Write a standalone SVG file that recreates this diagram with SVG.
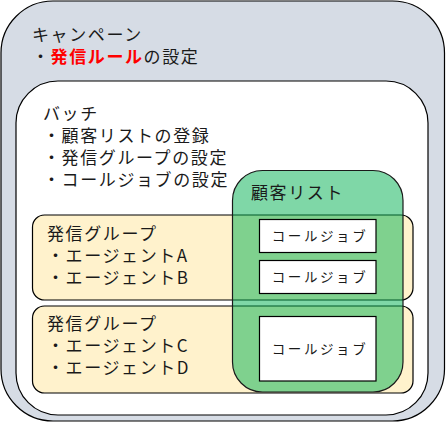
<svg xmlns="http://www.w3.org/2000/svg" width="446" height="423" viewBox="0 0 446 423">
<style>
text{font-family:"Noto Sans CJK JP","Noto Sans",sans-serif;fill:#1a1a1a;font-size:17px;letter-spacing:1.6px}
.box{stroke:#000;stroke-width:1.2}
.job{font-size:13.5px;letter-spacing:2.6px;text-anchor:middle}
.red{fill:#ff0000;font-weight:bold}
</style>
<g id="campaign">
<rect class="box" x="1" y="1" width="443.5" height="420" rx="52" fill="#D6DCE5"/>
<text x="32" y="41">キャンペーン<tspan x="32" dy="22">・</tspan><tspan class="red">発信ルール</tspan><tspan>の設定</tspan></text>
</g>
<g id="batch">
<rect class="box" x="16" y="81" width="412" height="334" rx="42" fill="#FFFFFF"/>
<text x="43" y="120">バッチ<tspan x="43" dy="22">・顧客リストの登録</tspan><tspan x="43" dy="22">・発信グループの設定</tspan><tspan x="43" dy="22">・コールジョブの設定</tspan></text>
</g>
<g id="group1">
<rect class="box" x="32.5" y="215" width="380.5" height="85" rx="12" fill="#FFF2CC"/>
<text x="47" y="240">発信グループ<tspan x="47" dy="22">・エージェントA</tspan><tspan x="47" dy="21.5">・エージェントB</tspan></text>
</g>
<g id="group2">
<rect class="box" x="32.5" y="306" width="380.5" height="87" rx="12" fill="#FFF2CC"/>
<text x="47" y="330">発信グループ<tspan x="47" dy="22">・エージェントC</tspan><tspan x="47" dy="22">・エージェントD</tspan></text>
</g>
<g id="customer-list">
<rect x="232.5" y="170.5" width="170.5" height="221.5" rx="30" fill="#00B050" fill-opacity="0.5" stroke="#1a1a1a" stroke-width="1.2"/>
<text x="251" y="199">顧客リスト</text>
</g>
<g id="job1">
<rect class="box" x="259.5" y="219.5" width="116.5" height="33" fill="#FFFFFF"/>
<text class="job" x="320" y="241">コールジョブ</text>
</g>
<g id="job2">
<rect class="box" x="259.5" y="260.5" width="116.5" height="33" fill="#FFFFFF"/>
<text class="job" x="320" y="282">コールジョブ</text>
</g>
<g id="job3">
<rect class="box" x="259.5" y="316.5" width="116.5" height="64.5" fill="#FFFFFF"/>
<text class="job" x="320" y="354">コールジョブ</text>
</g>
<g id="connectors"/>
</svg>
